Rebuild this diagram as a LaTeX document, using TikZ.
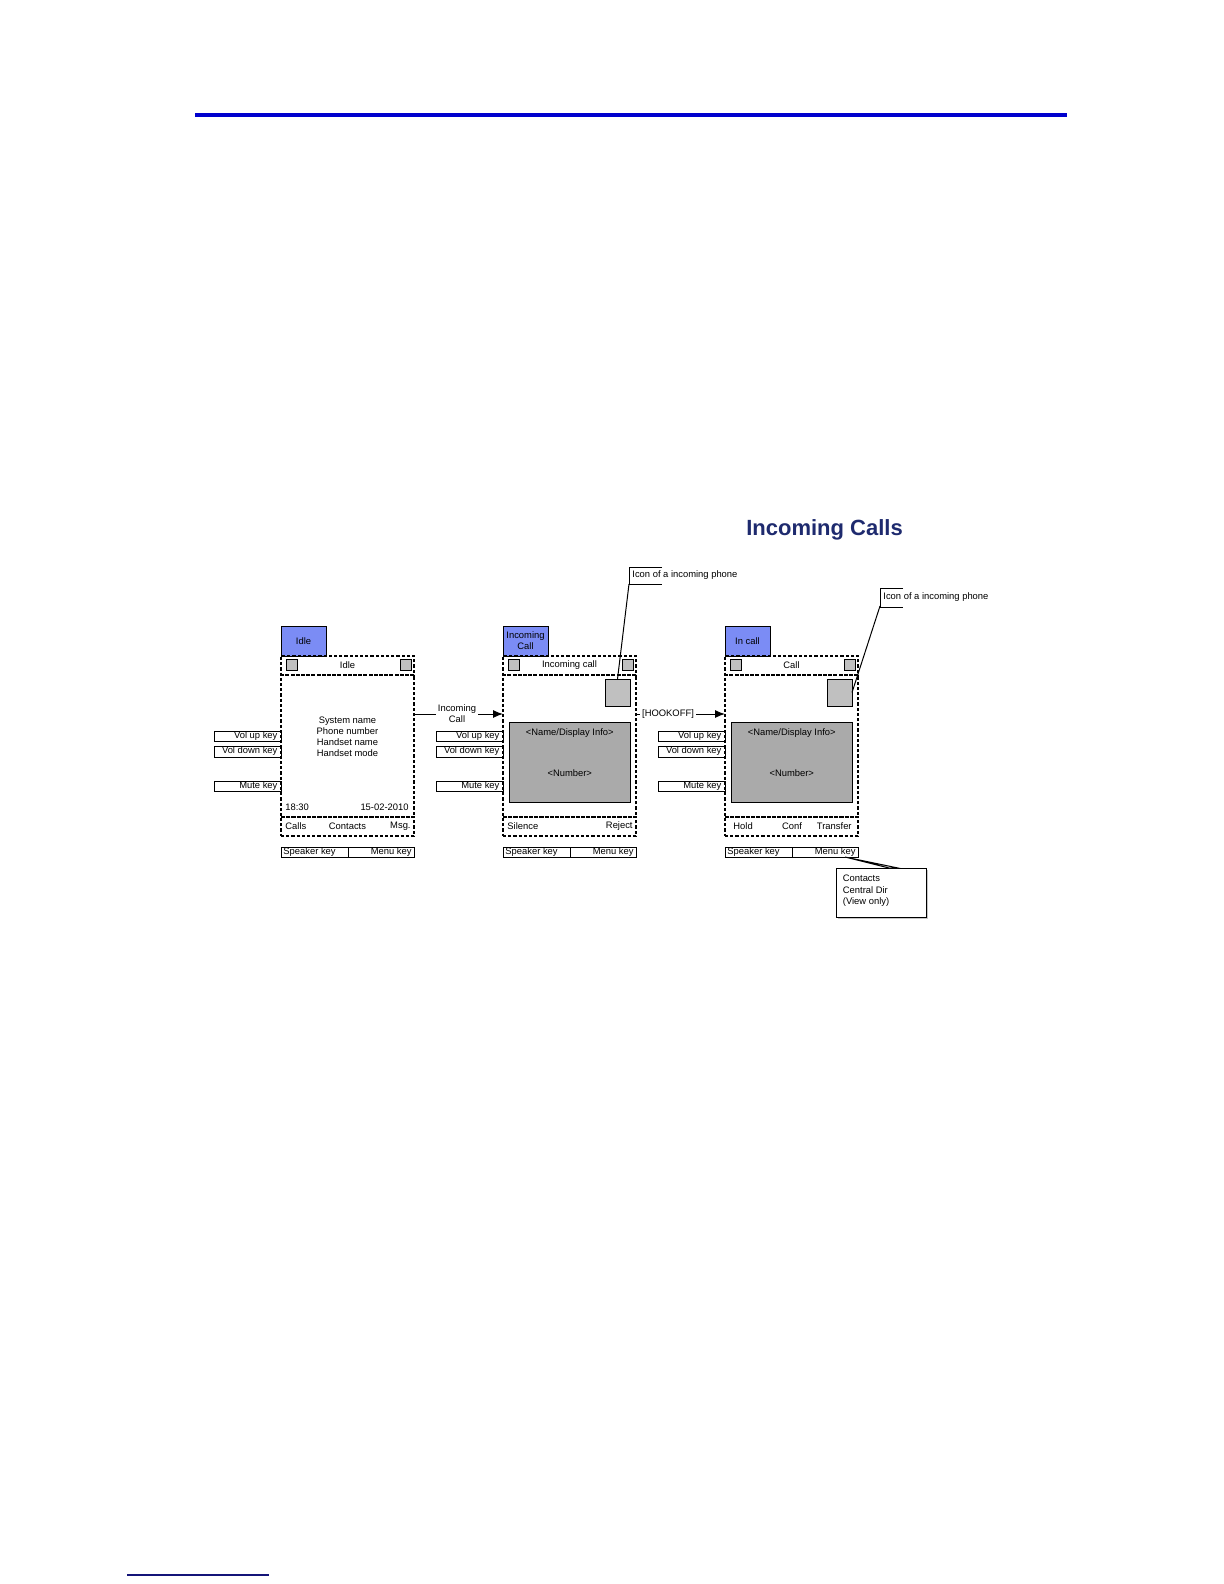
\documentclass[tikz,border=0pt]{standalone}
\usepackage{fontspec}
\setmainfont{Liberation Sans}
\usetikzlibrary{fit,arrows.meta,calc}
\definecolor{tabblue}{RGB}{123,140,245}
\definecolor{titleblue}{RGB}{30,42,110}
\definecolor{ruleblue}{RGB}{0,0,205}
\definecolor{navyline}{RGB}{20,20,120}
\definecolor{sqgrey}{RGB}{192,192,192}
\definecolor{rectgrey}{RGB}{170,170,170}
\tikzset{
 bx/.style={inner sep=0pt, outer sep=0pt},
 dbox/.style={bx, draw, line width=1pt, dash pattern=on 1.6pt off 1pt},
 kbox/.style={bx, draw, line width=0.5pt},
 tabbox/.style={bx, draw, line width=0.5pt, fill=tabblue},
 sqbox/.style={bx, draw, line width=0.5pt, fill=sqgrey},
 bigrect/.style={bx, draw, line width=0.5pt, fill=rectgrey},
 txt/.style={inner sep=0pt, font=\fontsize{4.7}{5.5}\selectfont, align=center},
 conn/.style={line width=0.5pt},
 arr/.style={line width=0.5pt, -{Latex[length=5pt,width=4pt]}},
}
% #1 name prefix, #2 left x (px)
\newcommand{\phoneframe}[2]{%
 \node[tabbox, fit={(#2,626) ({#2+45},656)}] (#1tab) {};
 \node[dbox, fit={(#2,656) ({#2+133},675)}] (#1head) {};
 \node[dbox, fit={(#2,675) ({#2+133},817)}] (#1main) {};
 \node[dbox, fit={(#2,817) ({#2+133},836)}] (#1soft) {};
 \node[sqbox, fit={({#2+5},659) ({#2+16.5},670)}] (#1sql) {};
 \node[sqbox, fit={({#2+119.5},659) ({#2+130},670)}] (#1sqr) {};
 \node[kbox, fit={(#2,847) ({#2+67},857)}] (#1spk) {};
 \node[kbox, fit={({#2+67},847) ({#2+133},857)}] (#1menu) {};
 \node[kbox, fit={({#2-67},731) (#2,741)}] (#1volup) {};
 \node[kbox, fit={({#2-67},746) (#2,757)}] (#1voldn) {};
 \node[kbox, fit={({#2-67},781) (#2,791)}] (#1mute) {};
 \node[txt, anchor=east] at ([xshift=-1.6pt]#1volup.east) {Vol up key};
 \node[txt, anchor=east] at ([xshift=-1.6pt]#1voldn.east) {Vol down key};
 \node[txt, anchor=east] at ([xshift=-1.6pt]#1mute.east) {Mute key};
 \node[txt, anchor=west] at ([xshift=1pt]#1spk.west) {Speaker key};
 \node[txt, anchor=east] at ([xshift=-1pt]#1menu.east) {Menu key};
}
% call screen contents: #1 prefix, #2 left x
\newcommand{\callscreen}[2]{%
 \node[sqbox, fit={({#2+102},679) ({#2+127},706)}] (#1icon) {};
 \node[bigrect, fit={({#2+6},722) ({#2+127.5},802)}] (#1rect) {};
 \node[txt] at ($(#1rect.north)+(0,11)$) {<Name/Display Info>};
 \node[txt] at ($(#1rect.north)+(0,51)$) {<Number>};
}
\begin{document}
\begin{tikzpicture}[x=0.5pt,y=-0.5pt]
\path[use as bounding box] (0,0) rectangle (1224,1584);
\draw[ruleblue, line width=1.6pt] (195,115) -- (1067,115);
\draw[navyline, line width=0.8pt] (127,1575) -- (269,1575);
\node[font=\bfseries\fontsize{11}{13}\selectfont, text=titleblue, inner sep=0pt] (title) at (824.5,530) {Incoming Calls};

\phoneframe{a}{281}
\phoneframe{b}{503}
\phoneframe{c}{725}
\callscreen{b}{503}
\callscreen{c}{725}

% tabs
\node[txt] at (atab) {Idle};
\node[txt] at (btab) {Incoming\\Call};
\node[txt] at (ctab) {In call};
% headers
\node[txt] at (ahead) {Idle};
\node[txt] at (bhead) {Incoming call};
\node[txt] at (chead) {Call};

% idle screen
\node[txt] (asys) at (347.5,737) {System name\\Phone number\\Handset name\\Handset mode};
\node[txt, anchor=west] (atime) at (285,807) {18:30};
\node[txt, anchor=east] (adate) at (409,807) {15-02-2010};

% soft keys
\node[txt, anchor=west] at ([xshift=2pt]asoft.west) {Calls};
\node[txt] at (asoft) {Contacts};
\node[txt, anchor=east] at ([xshift=-1.5pt]asoft.east) {Msg.};
\node[txt, anchor=west] at ([xshift=2pt]bsoft.west) {Silence};
\node[txt, anchor=east] at ([xshift=-1.5pt]bsoft.east) {Reject};
\node[txt, anchor=west] at ([xshift=4pt]csoft.west) {Hold};
\node[txt] at ($(csoft.west)+(67,0)$) {Conf};
\node[txt, anchor=east] at ([xshift=-3pt]csoft.east) {Transfer};

% transitions
\node[txt, fill=white, inner sep=1pt] (lab1) at (457,714) {Incoming\\Call};
\draw[conn] (amain.east |- lab1) -- (lab1.west);
\draw[arr] (lab1.east) -- (bmain.west |- lab1);
\node[txt, fill=white, inner sep=1pt] (lab2) at (668,714) {[HOOKOFF]};
\draw[conn] (bmain.east |- lab2) -- (lab2.west);
\draw[arr] (lab2.east) -- (cmain.west |- lab2);

% callouts
\node[txt, anchor=west] (call1) at (632,575.5) {Icon of a incoming phone};
\draw[conn] (662,567) -- (629,567) -- (629,584) -- (662,584);
\coordinate (call1p) at (629,584);
\draw[conn] (call1p) -- (bicon.north);

\node[txt, anchor=west] (call2) at (883,597.5) {Icon of a incoming phone};
\draw[conn] (903,588) -- (880,588) -- (880,607) -- (903,607);
\coordinate (call2p) at (880,606);
\draw[conn] (call2p) -- (cicon.east);

\fill[gray!45] (838,870) rectangle (927.5,919);
\node[kbox, fill=white, fit={(836,868) (926,917)}] (cdir) {};
\node[txt, align=left, anchor=north west, font=\fontsize{4.7}{5.75}\selectfont] (cdirtxt) at (842.5,875) {Contacts\\Central Dir\\(View only)};
\coordinate (menutip) at ($(cmenu.south)+(20,0)$);
\draw[conn, fill=white] (menutip) -- (889,868) -- (898,868) -- cycle;
\end{tikzpicture}
\end{document}
